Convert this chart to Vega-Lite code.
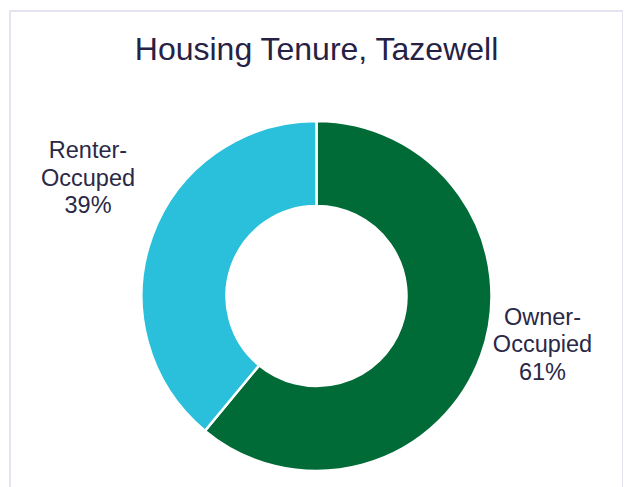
{
  "$schema": "https://vega.github.io/schema/vega-lite/v6.json",
  "width": 613,
  "height": 570,
  "autosize": {"type": "none"},
  "padding": {"left": 10, "top": 11, "right": 0, "bottom": 0},
  "background": "white",
  "view": {"stroke": "#DCDBEB", "strokeWidth": 1.5, "fill": "white"},
  "title": {
    "text": "Housing Tenure, Tazewell",
    "font": "Liberation Sans",
    "fontSize": 32,
    "fontWeight": "normal",
    "color": "#262245",
    "anchor": "middle",
    "frame": "group",
    "baseline": "alphabetic",
    "offset": 0,
    "dy": 81
  },
  "data": {
    "values": [
      {"tenure": "Owner-Occupied", "share": 61, "label": "Owner-\nOccupied\n61%"},
      {"tenure": "Renter-Occupied", "share": 39, "label": "Renter-\nOccuped\n39%"}
    ]
  },
  "layer": [
    {
      "mark": {"type": "arc", "outerRadius": 175, "innerRadius": 90, "stroke": "white", "strokeWidth": 2.5},
      "encoding": {
        "theta": {"field": "share", "type": "quantitative", "stack": true},
        "color": {
          "field": "tenure",
          "type": "nominal",
          "scale": {"domain": ["Owner-Occupied", "Renter-Occupied"], "range": ["#006B37", "#2AC0DB"]},
          "legend": null
        }
      }
    },
    {
      "mark": {"type": "text", "radius": 237, "dx": 3, "dy": -58.5, "font": "Liberation Sans", "fontSize": 23.5, "lineHeight": 27.5, "lineBreak": "\n", "color": "#2A2847", "align": "center", "baseline": "middle"},
      "encoding": {
        "theta": {"field": "share", "type": "quantitative", "stack": true},
        "detail": {"field": "tenure", "type": "nominal"},
        "text": {"condition": {"test": "datum.tenure === 'Owner-Occupied'", "field": "label"}, "value": ""}
      }
    },
    {
      "mark": {"type": "text", "radius": 237, "dx": -5.5, "dy": -64.5, "font": "Liberation Sans", "fontSize": 23.5, "lineHeight": 27.5, "lineBreak": "\n", "color": "#2A2847", "align": "center", "baseline": "middle"},
      "encoding": {
        "theta": {"field": "share", "type": "quantitative", "stack": true},
        "detail": {"field": "tenure", "type": "nominal"},
        "text": {"condition": {"test": "datum.tenure === 'Renter-Occupied'", "field": "label"}, "value": ""}
      }
    }
  ]
}
